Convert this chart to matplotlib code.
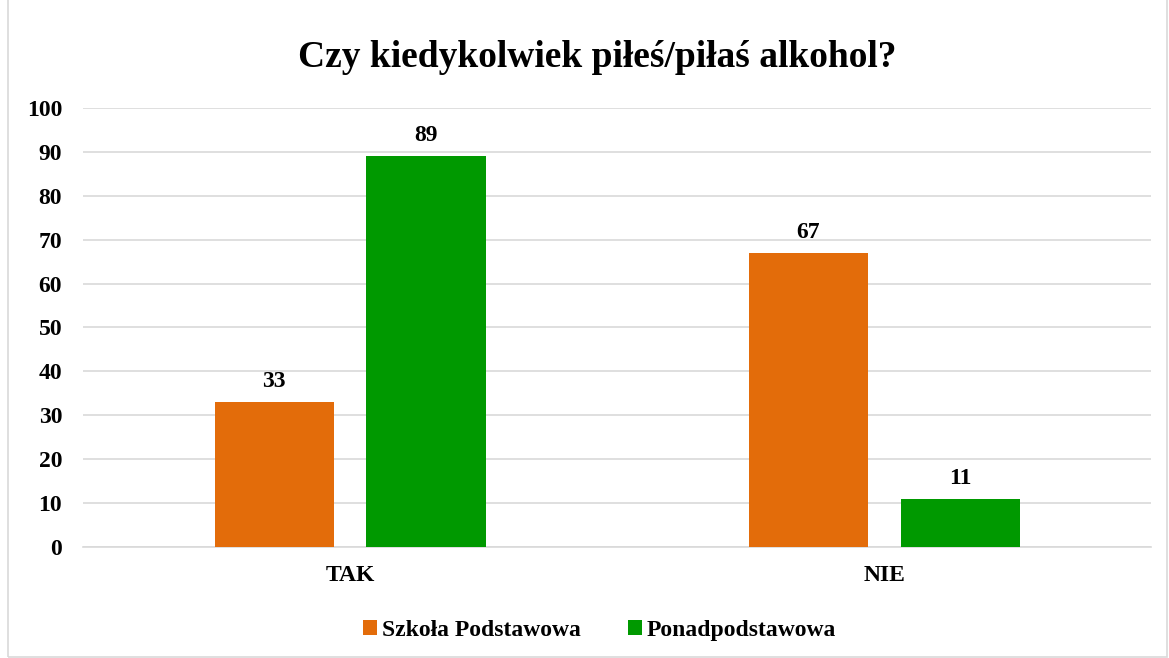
import matplotlib.pyplot as plt
import numpy as np
from matplotlib.patches import Rectangle

plt.rcParams['font.family'] = ['Liberation Serif', 'DejaVu Serif']
plt.rcParams['font.weight'] = 'bold'

categories = ["TAK", "NIE"]
szkola = [33, 67]
ponad = [89, 11]
series_names = ["Szkoła Podstawowa", "Ponadpodstawowa"]
title = "Czy kiedykolwiek piłeś/piłaś alkohol?"

fig = plt.figure(figsize=(11.69, 6.58), dpi=100)
fig.patches.append(Rectangle((8 / 1169, 0.002), 1 - 10 / 1169, 1.2, transform=fig.transFigure,
                             fill=False, edgecolor="#D9D9D9", linewidth=1.2))
ax = fig.add_axes([0.071, 0.1687, 0.914, 0.6672])

x = np.arange(len(categories))
w = 0.223
off = 0.142
b1 = ax.bar(x - off, szkola, w, color="#E36C0A", label=series_names[0], zorder=3)
b2 = ax.bar(x + off, ponad, w, color="#009900", label=series_names[1], zorder=3)

# value labels above bars
for bars in (b1, b2):
    for r in bars:
        ax.text(r.get_x() + r.get_width() / 2, r.get_height() + 2.3, f"{int(r.get_height())}",
                ha="center", va="bottom", fontsize=17, fontweight="bold")

ax.set_xlim(-0.5, 1.5)
ax.set_ylim(0, 100)
ax.set_yticks(range(0, 101, 10))
ax.set_xticks(x)
ax.set_xticklabels(categories)
ax.tick_params(axis="both", length=0, labelsize=17)
ax.tick_params(axis="x", pad=13)
ax.tick_params(axis="y", pad=15)
ax.grid(axis="y", color="#D9D9D9", linewidth=1.2, zorder=0)
for s in ["top", "right", "left"]:
    ax.spines[s].set_visible(False)
ax.spines["bottom"].set_color("#D9D9D9")
ax.spines["bottom"].set_linewidth(1.2)

fig.text(0.511, 0.912, title, ha="center", va="center", fontsize=27, fontweight="bold")

fig.legend(loc="center", bbox_to_anchor=(0.513, 0.042), ncol=2, frameon=False,
           fontsize=17, handlelength=0.6, handleheight=0.6, handletextpad=0.2, columnspacing=2.0)

fig.savefig("out.png", dpi=100)
